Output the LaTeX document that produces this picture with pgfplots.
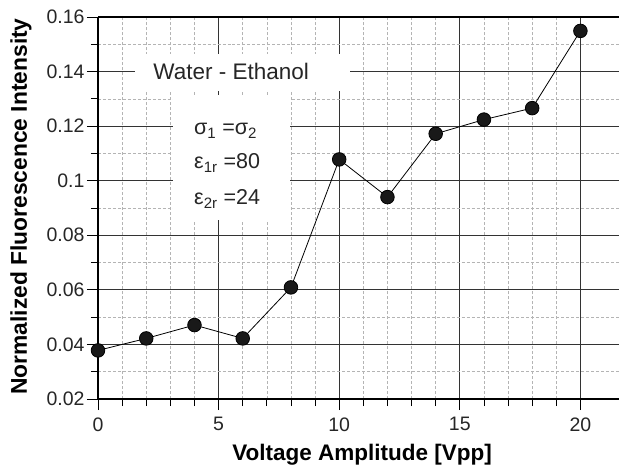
\documentclass[border=0pt]{standalone}
\usepackage{pgfplots}
\pgfplotsset{compat=1.18}
\usepackage{fontspec}
\setmainfont{Liberation Sans}
\definecolor{majgrid}{HTML}{333333}
\definecolor{mingrid}{HTML}{B4B4B4}
\begin{document}
\begin{tikzpicture}
\begin{axis}[
  scale only axis,
  width=521bp, height=382bp,
  xmin=0, xmax=21.6, ymin=0.02, ymax=0.16,
  xtick={0,5,10,15,20},
  ytick={0.02,0.04,0.06,0.08,0.1,0.12,0.14,0.16},
  yticklabels={0.02,0.04,0.06,0.08,0.1,0.12,0.14,0.16},
  minor x tick num=4,
  minor y tick num=1,
  scaled y ticks=false,
  axis x line*=bottom, axis y line*=left,
  x axis line style={-, line width=1.5pt},
  y axis line style={-, line width=1.5pt},
  tick align=outside,
  major tick length=11bp, minor tick length=7bp,
  every tick/.style={black, line width=0.8pt},
  grid=both,
  major grid style={majgrid, line width=0.9pt},
  minor grid style={mingrid, line width=0.6pt, dash pattern=on 3pt off 2pt},
  /pgf/number format/assume math mode=true,
  tick label style={font=\fontsize{19.5bp}{22bp}\selectfont, text=black!85},
  xticklabel style={yshift=-4bp},
  yticklabel style={xshift=1bp},
  xlabel={Voltage Amplitude [Vpp]},
  ylabel={Normalized Fluorescence Intensity},
  xlabel style={font=\fontsize{22.5bp}{26bp}\selectfont\bfseries, at={(axis description cs:0.507,0)}, anchor=base, yshift=-61bp},
  ylabel style={font=\fontsize{22.8bp}{27bp}\selectfont\bfseries, at={([xshift=-71bp]axis description cs:0,0.504)}, anchor=base},
  clip=false,
]
\fill[white] (axis cs:1.54,0.1465) rectangle (axis cs:10.45,0.1330);
\fill[white] (axis cs:3.11,0.1314) rectangle (axis cs:7.97,0.0856);
\node[anchor=base, font=\fontsize{22.5bp}{26bp}\selectfont, text=black!85] at (axis cs:5.52,0.1372) {Water - Ethanol};
\node[anchor=base west, font=\fontsize{21.5bp}{25bp}\selectfont, text=black!85, inner sep=0pt] at (axis cs:3.98,0.1168) {σ\textsubscript{1} =σ\textsubscript{2}};
\node[anchor=base west, font=\fontsize{21.5bp}{25bp}\selectfont, text=black!85, inner sep=0pt] at (axis cs:3.98,0.1043) {ε\textsubscript{1r} =80};
\node[anchor=base west, font=\fontsize{21.5bp}{25bp}\selectfont, text=black!85, inner sep=0pt] at (axis cs:3.98,0.0911) {ε\textsubscript{2r} =24};
\addplot[black, line width=0.8pt, mark=*, mark size=6.8bp, mark options={fill=black!90}] coordinates {
(0,0.0378) (2,0.0422) (4,0.0471) (6,0.0422) (8,0.0609) (10,0.1078)
(12,0.0940) (14,0.1172) (16,0.1224) (18,0.1266) (20,0.1549)
};
\draw[black, line width=1.5pt] (rel axis cs:0,1) -- (rel axis cs:1,1);
\coordinate (ll) at (rel axis cs:0,0);
\coordinate (ur) at (rel axis cs:1,1);
\end{axis}
\pgfresetboundingbox
\path ([shift={(-98bp,-68bp)}]ll) rectangle ([shift={(0bp,17bp)}]ur);
\end{tikzpicture}
\end{document}
